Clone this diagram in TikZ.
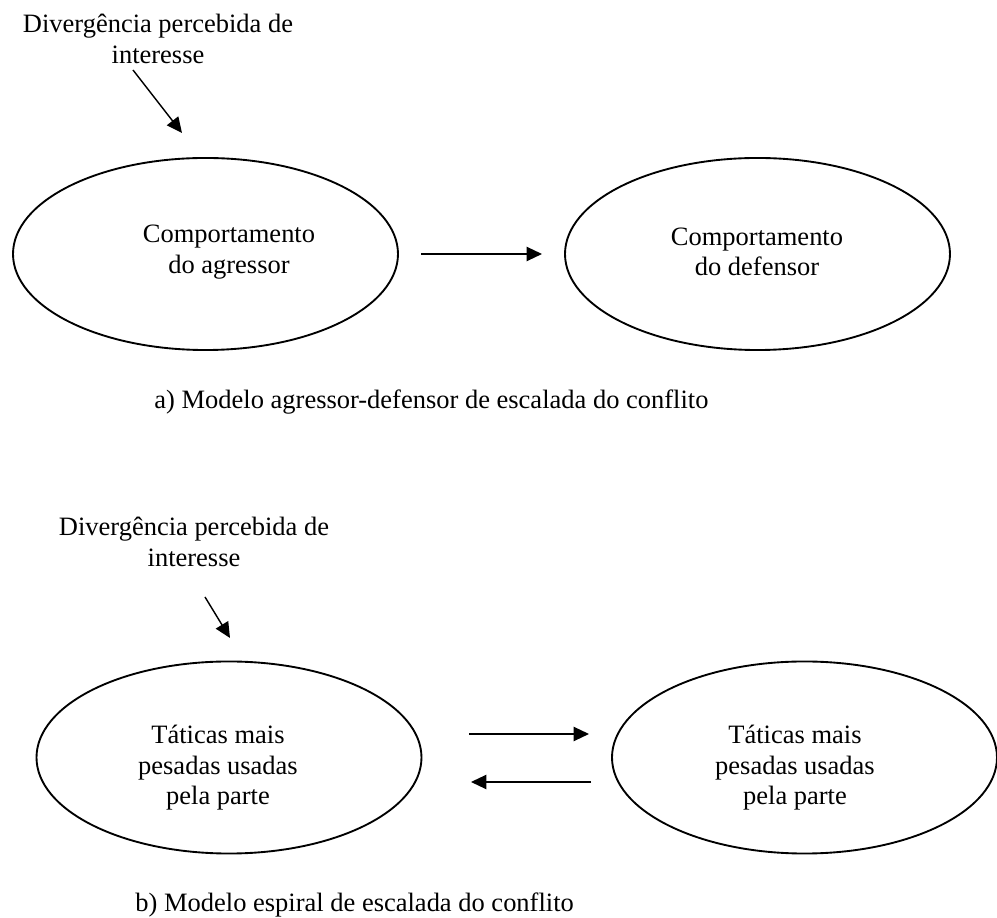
\documentclass[tikz,border=0pt]{standalone}
\usepackage{fontspec}
\setmainfont{Liberation Serif}
\usepackage{tikz}
\usetikzlibrary{arrows.meta,shapes.geometric}
\tikzstyle{oval}=[ellipse,draw=black,line width=0.85pt,inner sep=0pt,
  minimum width=174.4pt,minimum height=87pt]
\tikzstyle{txt}=[align=center,inner sep=0pt,font=\fontsize{12}{13.8}\selectfont]
\tikzstyle{capt}=[anchor=base west,inner sep=0pt,font=\fontsize{12}{13.8}\selectfont]
\tikzstyle{arr}=[line width=0.65pt,-{Triangle[length=7pt,width=6.5pt]}]

\begin{document}
\begin{tikzpicture}[x=0.453pt,y=-0.453pt]
        \useasboundingbox (0,0) rectangle (997,918);
        \node [style=txt] (da) at (158,39) {Divergência percebida de\\interesse};
        \coordinate (da1) at (133,70);
        \coordinate (da2) at (182,133);
        \node [style=oval] (agr) at (205.5,254) {};
        \node [style=txt] (agrt) at (229,252) {Comportamento\\do agressor};
        \node [style=oval] (def) at (757.5,254) {};
        \node [style=txt] (deft) at (757,252) {Comportamento\\do defensor};
        \coordinate (ad1) at (421,254);
        \coordinate (ad2) at (542,254);
        \node [style=capt] (capa) at (154,409) {a) Modelo agressor-defensor de escalada do conflito};
        \node [style=txt] (db) at (194,542) {Divergência percebida de\\interesse};
        \coordinate (db1) at (205,597);
        \coordinate (db2) at (230,638);
        \node [style=oval] (pl) at (229,757.5) {};
        \node [style=txt] (plt) at (218,768) {Táticas mais\\pesadas usadas\\pela parte};
        \node [style=oval] (pr) at (804.5,757.5) {};
        \node [style=txt] (prt) at (795,768) {Táticas mais\\pesadas usadas\\pela parte};
        \coordinate (lr1) at (469,734);
        \coordinate (lr2) at (589,734);
        \coordinate (rl1) at (591,782);
        \coordinate (rl2) at (471,782);
        \node [style=capt] (capb) at (135,912) {b) Modelo espiral de escalada do conflito};
        \draw [style=arr] (da1) to (da2);
        \draw [style=arr] (ad1) to (ad2);
        \draw [style=arr] (db1) to (db2);
        \draw [style=arr] (lr1) to (lr2);
        \draw [style=arr] (rl1) to (rl2);
    \end{tikzpicture}
\end{document}
